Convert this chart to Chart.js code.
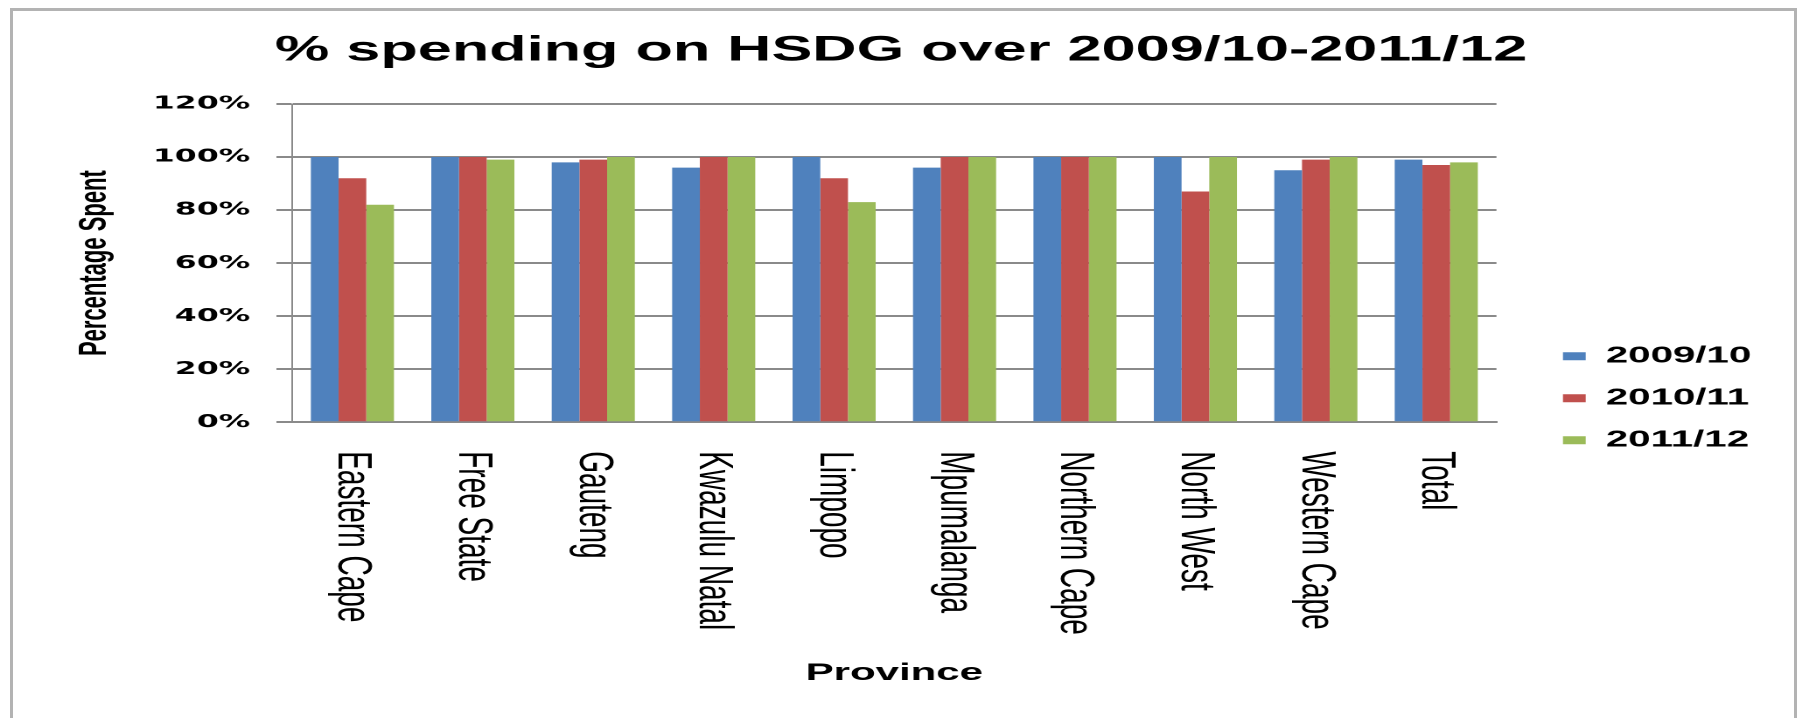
<!DOCTYPE html>
<html>
<head>
<meta charset="utf-8">
<title>% spending on HSDG over 2009/10-2011/12</title>
<script src="https://cdn.jsdelivr.net/npm/chart.js@4.4.0/dist/chart.umd.min.js"></script>
<style>
  html, body { margin: 0; padding: 0; background: #fff; }
  body { width: 1802px; height: 718px; overflow: hidden; position: relative; }
  /* grey frame round the chart, open at the bottom like the source */
  #frame { position: absolute; left: 10px; top: 8px; width: 1781px; height: 720px;
           border: 3px solid #b3b3b3; border-bottom: none; }
  /* the source picture is stretched sideways, so draw narrow and stretch */
  #wrap { position: absolute; left: 0; top: 0; width: 1030px; height: 718px;
          transform: scaleX(1.7495); transform-origin: 0 0; }
</style>
</head>
<body>
<div id="frame"></div>
<div id="wrap"><canvas id="chart"></canvas></div>
<script>
// ---- data ----
const PROVINCES = ['Eastern Cape', 'Free State', 'Gauteng', 'Kwazulu Natal', 'Limpopo',
                   'Mpumalanga', 'Northern Cape', 'North West', 'Western Cape', 'Total'];
const YEARS = ['2009/10', '2010/11', '2011/12'];
const SPENT_2009 = [100, 100, 98, 96, 100, 96, 100, 100, 95, 99];
const SPENT_2010 = [92, 100, 99, 100, 92, 100, 100, 87, 99, 97];
const SPENT_2011 = [82, 99, 100, 100, 83, 100, 100, 100, 100, 98];
const Y_MAX = 120;
const Y_STEP = 20;

const BAR_COLORS = ['#4f81bd', '#c0504d', '#9bbb59'];
const GRID = '#8a8a8a';

Chart.defaults.font.family = "'Liberation Sans', Arial, sans-serif";
Chart.defaults.color = '#000';

// category names run top-to-bottom under the axis
const provinceLabels = {
  id: 'provinceLabels',
  afterDraw(chart) {
    const x = chart.scales.x, ctx = chart.ctx;
    ctx.save();
    ctx.font = "28px 'Liberation Sans', Arial, sans-serif";
    ctx.fillStyle = '#000';
    ctx.textAlign = 'left';
    ctx.textBaseline = 'middle';
    PROVINCES.forEach((name, i) => {
      ctx.save();
      ctx.translate(x.getPixelForValue(i), x.top + 29);
      ctx.rotate(Math.PI / 2);
      ctx.fillText(name, 0, 0);
      ctx.restore();
    });
    ctx.restore();
  }
};

const ctx = document.getElementById('chart');
new Chart(ctx, {
  type: 'bar',
  data: {
    labels: PROVINCES,
    datasets: [SPENT_2009, SPENT_2010, SPENT_2011].map((d, i) => ({
      label: YEARS[i],
      data: d,
      backgroundColor: BAR_COLORS[i],
      borderWidth: 0,
      categoryPercentage: 0.69,
      barPercentage: 1
    }))
  },
  options: {
    responsive: true,
    maintainAspectRatio: false,
    devicePixelRatio: 2,
    animation: false,
    layout: { padding: { left: 19, right: 19, top: 0, bottom: 0 } },
    plugins: {
      title: {
        display: true,
        text: '% spending on HSDG over 2009/10-2011/12',
        color: '#000',
        font: { size: 35, weight: 'bold' },
        padding: { top: 30, bottom: 32 }
      },
      legend: {
        position: 'right',
        align: 'center',
        title: { display: true, text: '', padding: { top: 64, bottom: 0 } },
        labels: { boxWidth: 13, boxHeight: 8, padding: 19, color: '#000',
                  font: { size: 23, weight: 'bold' } }
      },
      tooltip: { enabled: false }
    },
    scales: {
      x: {
        grid: { drawOnChartArea: false, drawTicks: false },
        border: { color: GRID, width: 2 },
        ticks: { display: false },
        title: { display: true, text: 'Province', color: '#000',
                 font: { size: 24, weight: 'bold' }, padding: { top: 237, bottom: 30 } }
      },
      y: {
        min: 0,
        max: Y_MAX,
        ticks: { stepSize: Y_STEP, callback: v => v + '%', color: '#000', padding: 15,
                 font: { family: "'DejaVu Sans', sans-serif", size: 18, weight: 'bold' } },
        grid: { color: GRID, lineWidth: 2, tickLength: 9 },
        border: { color: GRID, width: 1 },
        title: { display: true, text: 'Percentage Spent', color: '#000',
                 font: { size: 22, weight: 'bold' }, padding: { top: 22, bottom: 5 } }
      },
      // empty axis only to keep the gap between plot and legend
      gap: {
        type: 'linear',
        position: 'right',
        grid: { display: false },
        ticks: { display: false },
        border: { display: false },
        afterFit: s => { s.width = 19; }
      }
    }
  },
  plugins: [provinceLabels]
});
</script>
</body>
</html>
